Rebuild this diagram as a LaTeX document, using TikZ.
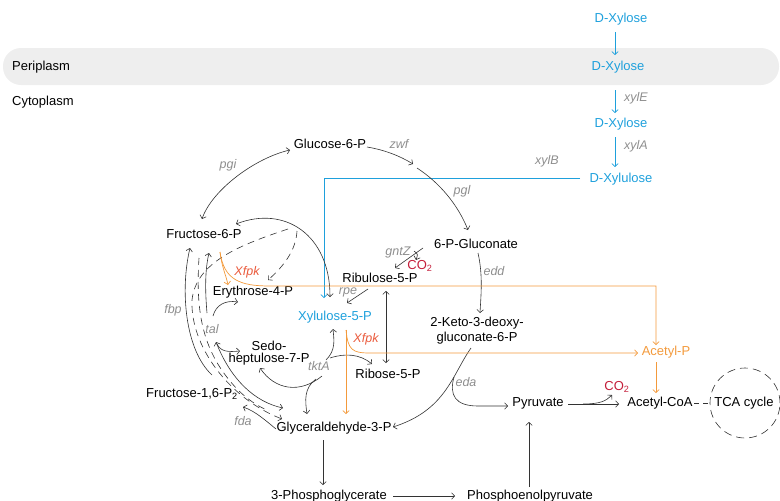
\documentclass[tikz,border=0pt]{standalone}
\usepackage{fontspec}
\setmainfont{Liberation Sans}
\usetikzlibrary{arrows.meta}
\definecolor{xblue}{HTML}{1EA0DC}
\definecolor{xorange}{HTML}{F39A3C}
\definecolor{xred}{HTML}{EA5A3C}
\definecolor{cored}{HTML}{C41E3A}
\definecolor{lgray}{HTML}{8E8E8E}
\definecolor{lc}{HTML}{333333}
\definecolor{band}{HTML}{EEEEEE}
\begin{document}
\begin{tikzpicture}[x=1pt,y=-1pt,
  txt/.style={inner sep=0pt, font=\fontsize{13}{15}\selectfont, text=black},
  btxt/.style={txt, text=xblue},
  otxt/.style={txt, text=xorange},
  rtxt/.style={txt, text=cored},
  lab/.style={inner sep=0pt, font=\fontsize{12.5}{14}\selectfont\itshape, text=lgray},
  xlab/.style={lab, text=xred},
  con/.style={draw=lc, line width=0.6pt},
  bcon/.style={draw=xblue, line width=0.7pt},
  ocon/.style={draw=xorange, line width=0.7pt},
  dcon/.style={con, dash pattern=on 7pt off 5pt},
  arr/.style={arrows={-Straight Barb[length=3pt,width=6.5pt]}},
  darr/.style={arrows={Straight Barb[length=3pt,width=6.5pt]-Straight Barb[length=3pt,width=6.5pt]}}
]
\useasboundingbox (0,0) rectangle (780,501);
% periplasm band
\fill[band, rounded corners=18pt] (3,48) rectangle (779,85);

% ---------- nodes ----------
\node[btxt] (xylTop) at (621,19) {D-Xylose};
\node[txt, anchor=west] (peri) at (12,67) {Periplasm};
\node[txt, anchor=west] (cyto) at (12,102) {Cytoplasm};
\node[btxt] (xylPeri) at (618,67) {D-Xylose};
\node[btxt] (xylCyt) at (621,124) {D-Xylose};
\node[btxt] (xylu) at (621,179) {D-Xylulose};
\node[lab, anchor=west] (xylE) at (624,98) {xylE};
\node[lab, anchor=west] (xylA) at (624,146) {xylA};
\node[lab] (xylB) at (547,161) {xylB};

\node[txt] (g6p) at (330,144) {Glucose-6-P};
\node[lab] (zwf) at (399,144) {zwf};
\node[lab] (pgl) at (462,191) {pgl};
\node[lab] (pgi) at (228,165) {pgi};
\node[txt] (f6p) at (204,234) {Fructose-6-P};
\node[txt] (pgz) at (476,244) {6-P-Gluconate};
\node[lab] (gntZ) at (398,252) {gntZ};
\node[rtxt] (co2a) at (420,266) {CO\textsubscript{2}};
\node[txt] (ru5p) at (380,278) {Ribulose-5-P};
\node[lab] (edd) at (494,271) {edd};
\node[xlab] (xfpk1) at (247,272) {Xfpk};
\node[txt] (e4p) at (253,292) {Erythrose-4-P};
\node[lab] (rpe) at (348,292) {rpe};
\node[btxt] (x5p) at (335,317) {Xylulose-5-P};
\node[lab] (fbp) at (173,310) {fbp};
\node[lab] (tal) at (212,329) {tal};
\node[txt, align=center, font=\fontsize{13}{15}\selectfont] (kdpg) at (477,331) {2-Keto-3-deoxy-\\gluconate-6-P};
\node[xlab] (xfpk2) at (366,339) {Xfpk};
\node[txt, align=center, font=\fontsize{13}{12}\selectfont] (s7p) at (269,353) {Sedo-\\heptulose-7-P};
\node[lab] (tktA) at (319,366) {tktA};
\node[otxt] (acp) at (666,352) {Acetyl-P};
\node[txt] (r5p) at (388,374) {Ribose-5-P};
\node[rtxt] (co2b) at (617,387) {CO\textsubscript{2}};
\node[lab] (eda) at (466,382) {eda};
\node[txt] (f16) at (192,394) {Fructose-1,6-P\textsubscript{2}};
\node[txt] (pyr) at (538,403) {Pyruvate};
\node[txt] (acoa) at (660,403) {Acetyl-CoA};
\node[txt] (tca) at (744,403) {TCA cycle};
\node[circle, inner sep=0pt, minimum size=70pt, dcon, dash pattern=on 8pt off 5pt] (tcac) at (745,403) {};
\node[lab] (fda) at (243,421) {fda};
\node[txt] (g3p) at (334,428) {Glyceraldehyde-3-P};
\node[txt] (pg3) at (329,496) {3-Phosphoglycerate};
\node[txt] (pep) at (530,496) {Phosphoenolpyruvate};

% ---------- blue xylose path ----------
\draw[bcon, arr] (615,32) -- (615,55);
\draw[bcon, arr] (615,90) -- (615,113);
\draw[bcon, arr] (615,137) -- (615,167);
\coordinate (xyluL) at (580,178);
\coordinate (x5pT) at (324,298);
\draw[bcon, arr] (xyluL) -| (x5pT);

% ---------- oxidative / ED ----------
\coordinate (g6pR) at (367,147);
\coordinate (lacA) at (413,164);
\coordinate (lacB) at (417,168);
\coordinate (pgzT) at (468,230);
\draw[con, arr] (g6pR) .. controls (385,150) and (400,156) .. (lacA);
\draw[con, arr] (lacB) .. controls (440,183) and (458,205) .. (pgzT);

\coordinate (g6pL) at (290,150);
\coordinate (f6pT) at (202,219);
\draw[con, darr] (g6pL) .. controls (255,158) and (212,190) .. (f6pT);

\coordinate (pgzL) at (423,248);
\coordinate (ru5pT) at (395,268);
\draw[con, arr] (pgzL) -- (ru5pT);
\coordinate (brA) at (414,251);
\coordinate (co2aT) at (416,260);
\draw[con, arr] (brA) .. controls (418,254) .. (co2aT);

\coordinate (pgzB) at (478,253);
\coordinate (kdpgT) at (480,313);
\draw[con, arr] (pgzB) .. controls (483,275) and (481,295) .. (kdpgT);

\coordinate (kdpgB) at (471,348);
\coordinate (g3pR) at (393,427);
\draw[con, arr] (kdpgB) .. controls (452,375) and (446,410) .. (g3pR);
\coordinate (edaBr) at (454,377);
\coordinate (pyrL) at (508,406);
\draw[con, arr] (edaBr) .. controls (449,395) and (455,406) .. (478,406) -- (pyrL);

% ---------- lower glycolysis ----------
\draw[con, arr] (323,440) -- (323,485);
\draw[con, arr] (393,496) -- (455,496);
\draw[con, arr] (529,487) -- (529,422);
\draw[con, arr] (568,404) -- (619,404);
\coordinate (pyrBr) at (583,404);
\coordinate (co2bB) at (612,395);
\draw[con, arr] (pyrBr) .. controls (600,404) and (606,401) .. (co2bB);
\draw[con, dash pattern=on 5pt off 4pt] (694,403) -- (tcac.west);

% ---------- pentose phosphate ----------
\coordinate (ru5pB) at (368,289);
\coordinate (x5pR) at (347,303);
\draw[con, arr] (ru5pB) -- (x5pR);
\draw[con, darr] (386,291) -- (386,363);

\coordinate (f6pR) at (236,224);
\coordinate (x5pT2) at (330,297);
\draw[con, darr] (f6pR) .. controls (285,205) and (330,235) .. (x5pT2);

% tktA
\draw[con, arr] (326,360) .. controls (336,350) and (334,340) .. (333,329);
\draw[con, arr] (330,358) .. controls (345,353) and (360,354) .. (372,364);
\draw[con, arr] (322,376) .. controls (300,394) and (275,390) .. (260,368);
\draw[con, arr] (316,379) .. controls (304,388) and (305,400) .. (307,414);

% tal
\draw[con, arr] (207,313) .. controls (205,290) and (205,270) .. (209,253);
\draw[con, arr] (213,316) .. controls (216,305) and (225,300) .. (238,302);
\draw[con, arr] (217,344) .. controls (221,352) and (228,352) .. (240,351);
\draw[con, darr] (216,342) .. controls (231,380) and (255,402) .. (283,408);

% fbp, fda
\coordinate (f16T) at (212,375);
\coordinate (f6pB) at (190,248);
\draw[con, arr] (f16T) .. controls (185,350) and (180,290) .. (f6pB);
\draw[con, arr] (276,429) .. controls (265,420) and (255,411) .. (243,407);

% dashed
\draw[dcon, arr] (288,229) .. controls (240,245) and (196,262) .. (192,300)
   .. controls (190,345) and (228,398) .. (282,419);
\draw[dcon] (199,258) .. controls (196,305) and (200,345) .. (230,381)
   .. controls (243,397) and (257,406) .. (269,411);
\draw[dcon, arr] (297,231) .. controls (296,250) and (284,266) .. (268,280);

% ---------- orange Xfpk ----------
\coordinate (f6pO) at (220,252);
\coordinate (e4pT) at (228,285);
\draw[ocon, arr] (f6pO) .. controls (222,268) and (226,275) .. (e4pT);
\coordinate (acpT) at (656,345);
\draw[ocon, arr] (f6pO) .. controls (224,280) and (240,286) .. (270,286) -- (656,286) -- (acpT);
\coordinate (x5pB) at (346,330);
\coordinate (g3pT) at (346,414);
\coordinate (acpL) at (638,353);
\draw[ocon, arr] (x5pB) -- (g3pT);
\draw[ocon, arr] (x5pB) .. controls (348,350) and (352,353) .. (370,353) -- (acpL);
\draw[ocon, arr] (656,362) -- (656,393);
\end{tikzpicture}
\end{document}
